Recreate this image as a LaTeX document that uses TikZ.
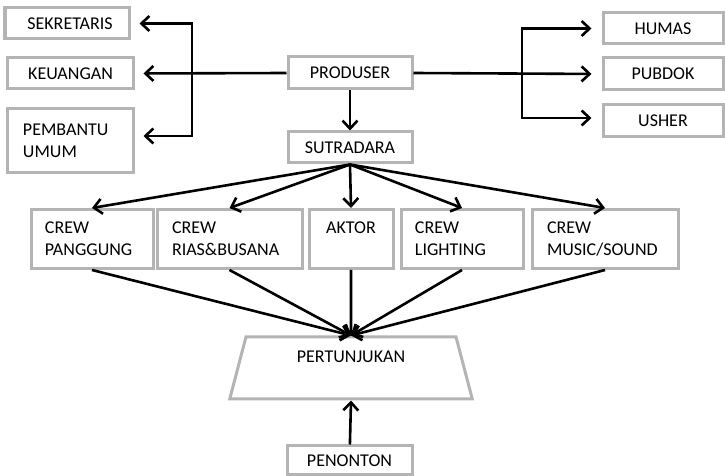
\documentclass[tikz,border=0pt]{standalone}
\usepackage{fontspec}
\setmainfont{Carlito}
\usetikzlibrary{arrows.meta,shapes.geometric}
\definecolor{abu}{HTML}{B4B4B4}
\begin{document}
\begin{tikzpicture}[x=0.5pt, y=-0.5pt, >={Straight Barb[length=4pt,width=7.5pt]},
  kotak/.style={draw=abu, line width=1.5pt, rectangle, inner sep=0pt, font=\fontsize{9}{11}\selectfont},
  panah/.style={->, line width=1.3pt}]
\useasboundingbox (0,0) rectangle (725,476);
\node[kotak, minimum width=62pt, minimum height=15.5pt] (sek) at (67,23.5) {\hspace*{3pt}SEKRETARIS};
\node[kotak, minimum width=62.5pt, minimum height=15.5pt] (keu) at (70.5,73.5) {KEUANGAN};
\node[kotak, minimum width=62.5pt, minimum height=32pt, text width=47.5pt, align=left] (pem) at (70.5,141) {PEMBANTU\\UMUM};
\node[kotak, minimum width=62pt, minimum height=16pt] (pro) at (350,73) {PRODUSER};
\node[kotak, minimum width=62pt, minimum height=15.5pt] (sut) at (350,147.5) {SUTRADARA};
\node[kotak, minimum width=60pt, minimum height=15.5pt] (hum) at (663,28.5) {HUMAS};
\node[kotak, minimum width=60pt, minimum height=16pt] (pub) at (663,74) {PUBDOK};
\node[kotak, minimum width=60pt, minimum height=16pt] (ush) at (663,121) {USHER};

\node[kotak, minimum width=61pt, minimum height=29.5pt, text width=47pt, align=left] (pan) at (92,239) {CREW\\PANGGUNG};
\node[kotak, minimum width=72.5pt, minimum height=29.5pt, text width=57.5pt, align=left] (rias) at (229.5,239) {CREW\\RIAS\&BUSANA};
\node[kotak, minimum width=42pt, minimum height=29.5pt, align=center] (akt) at (351,239) {AKTOR\\\mbox{}};
\node[kotak, minimum width=61pt, minimum height=29.5pt, text width=47pt, align=left] (lig) at (462,239) {CREW\\LIGHTING};
\node[kotak, minimum width=73pt, minimum height=29.5pt, text width=58pt, align=left] (mus) at (605,239) {CREW\\MUSIC/SOUND};

\node[kotak, trapezium, trapezium angle=76, trapezium stretches=true, minimum width=122pt, minimum height=31pt, align=center] (per) at (351,368) {PERTUNJUKAN\\\mbox{}};
\node[kotak, minimum width=62.5pt, minimum height=14.5pt] (pen) at (349.5,460.5) {PENONTON};

\coordinate (kiri) at (192,73);
\coordinate (kanan) at (522,73);

\draw[panah] (pro) -- (sut);
\draw[panah, shorten >=4.5pt] (pro.west) -- (keu.east);
\draw[panah, shorten >=4.5pt] (kiri) |- (sek.east);
\draw[panah, shorten >=4.5pt] (kiri) |- ([yshift=2.5pt]pem.east);
\draw[panah, shorten >=5pt] (pro.east) -- (pub.west);
\draw[panah, shorten >=5pt] (kanan) |- (hum.west);
\draw[panah, shorten >=5pt] (kanan) |- ([yshift=1.5pt]ush.west);

\foreach \c in {pan,rias,akt,lig,mus} {
  \draw[panah] (sut.south) -- (\c.north);
  \draw[panah] (\c.south) -- (per.north);
}
\draw[panah] (pen) -- (per.south);
\end{tikzpicture}
\end{document}
